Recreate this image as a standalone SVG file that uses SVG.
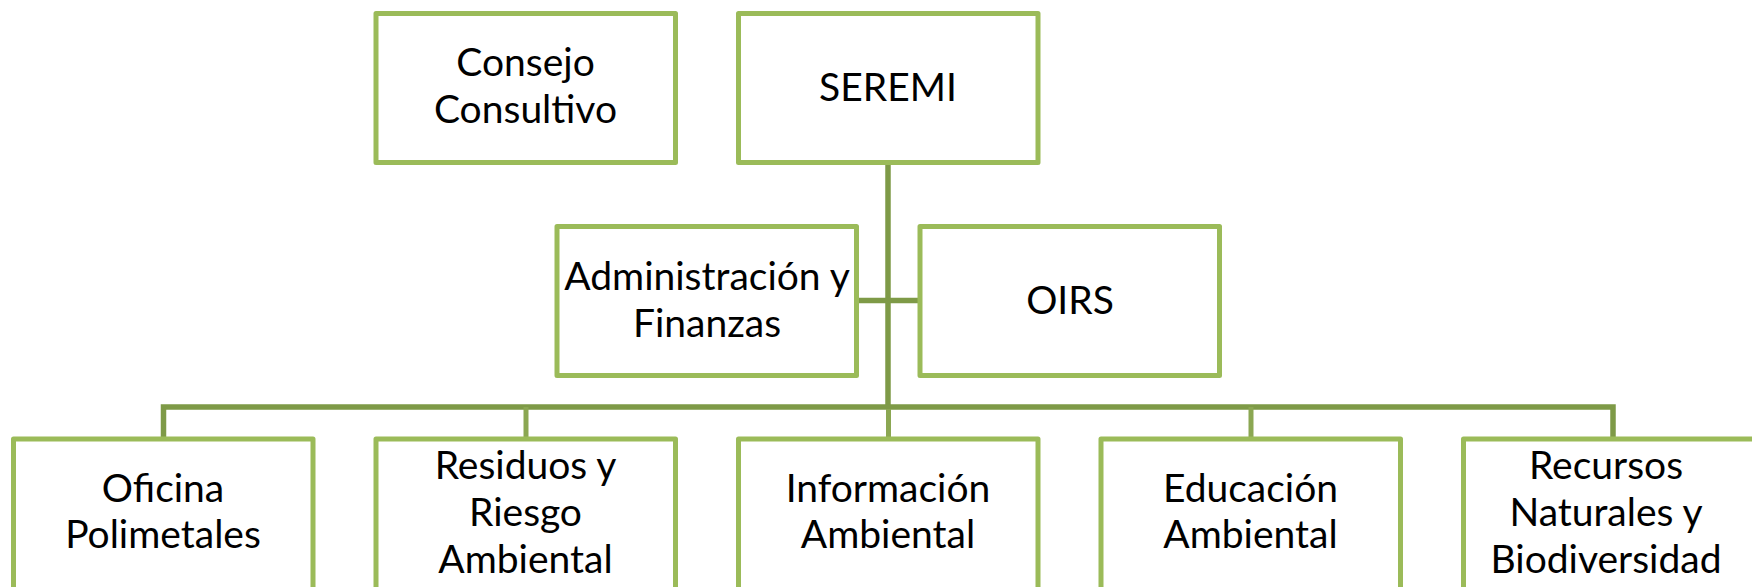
<svg xmlns="http://www.w3.org/2000/svg" width="1752" height="587" viewBox="0 0 1752 587">
<style>
.box{fill:#FFFFFF;stroke:#9BBB59;stroke-width:5;stroke-linejoin:round}
.t{font-family:Lato,"Liberation Sans",sans-serif;font-size:39px;fill:#000000;text-anchor:middle}
.c{fill:none;stroke:#7E9A47;stroke-width:5.5}
.d{fill:none;stroke:#8BA752;stroke-width:5}
</style>
<rect width="1752" height="587" fill="#FFFFFF"/>
<g id="connectors">
<line class="c" x1="888" y1="162" x2="888" y2="408"/>
<line class="c" x1="857" y1="300.5" x2="920" y2="300.5"/>
<polyline class="c" points="163.5,438 163.5,407 1613,407 1613,438"/>
<line class="d" x1="526" y1="407" x2="526" y2="438"/>
<line class="d" x1="888.5" y1="409" x2="888.5" y2="438"/>
<line class="d" x1="1251" y1="407" x2="1251" y2="438"/>
</g>
<g id="consejo">
<rect class="box" x="376" y="13.5" width="299.5" height="149"/>
<text class="t" x="525.5" y="76">Consejo</text>
<text class="t" x="525.5" y="122.7">Consultivo</text>
</g>
<g id="seremi">
<rect class="box" x="738.5" y="13.5" width="299.5" height="149"/>
<text class="t" x="888" y="100.7">SEREMI</text>
</g>
<g id="admin">
<rect class="box" x="557" y="226.5" width="299.5" height="149"/>
<text class="t" x="707" y="290">Administración y</text>
<text class="t" x="707" y="336.7">Finanzas</text>
</g>
<g id="oirs">
<rect class="box" x="920" y="226.5" width="299.5" height="149"/>
<text class="t" x="1070" y="313.7">OIRS</text>
</g>
<g id="oficina">
<rect class="box" x="13.5" y="439" width="299.5" height="151"/>
<text class="t" x="163" y="501.7">Oficina</text>
<text class="t" x="163" y="548.3">Polimetales</text>
</g>
<g id="residuos">
<rect class="box" x="376" y="439" width="299.5" height="151"/>
<text class="t" x="525.5" y="478.5">Residuos y</text>
<text class="t" x="525.5" y="525.5">Riesgo</text>
<text class="t" x="525.5" y="572.5">Ambiental</text>
</g>
<g id="informacion">
<rect class="box" x="738.5" y="439" width="299.5" height="151"/>
<text class="t" x="888" y="501.7">Información</text>
<text class="t" x="888" y="548.3">Ambiental</text>
</g>
<g id="educacion">
<rect class="box" x="1101" y="439" width="299.5" height="151"/>
<text class="t" x="1250.5" y="501.7">Educación</text>
<text class="t" x="1250.5" y="548.3">Ambiental</text>
</g>
<g id="recursos">
<rect class="box" x="1463.5" y="439" width="299.5" height="151"/>
<text class="t" x="1606" y="478.5">Recursos</text>
<text class="t" x="1606" y="525.5">Naturales y</text>
<text class="t" x="1606" y="572.5">Biodiversidad</text>
</g>
</svg>
